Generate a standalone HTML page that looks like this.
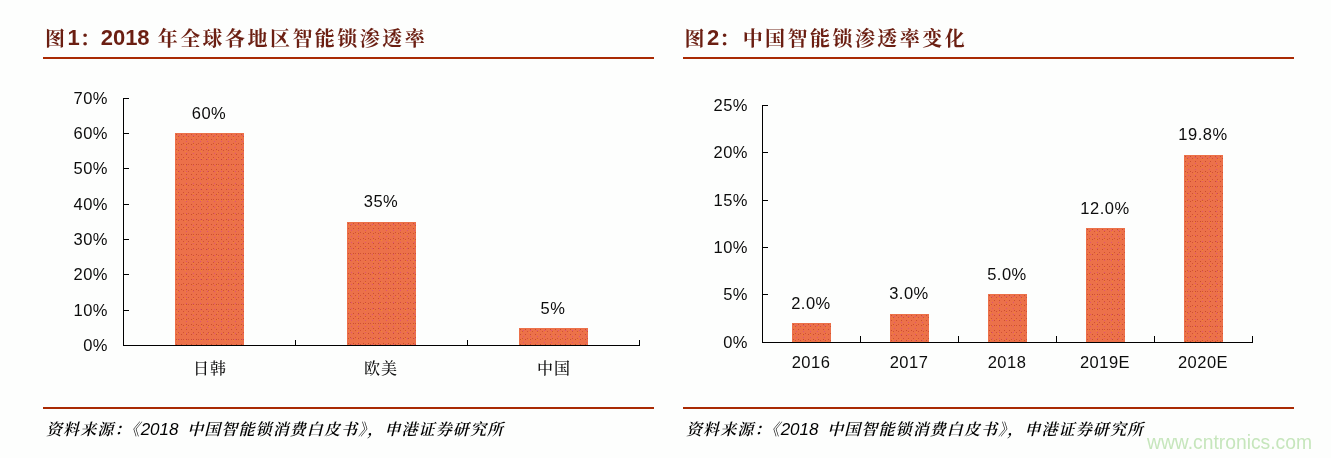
<!DOCTYPE html>
<html lang="zh-CN">
<head>
<meta charset="utf-8">
<title>智能锁渗透率</title>
<style>
html,body{margin:0;padding:0;}
body{text-spacing-trim:space-all;width:1331px;height:458px;position:relative;overflow:hidden;background:#fdfefd;
  font-family:"Liberation Sans","Noto Serif CJK SC",sans-serif;color:#0c0c0c;}
.abs{position:absolute;}
.rule{position:absolute;height:2px;background:#a92a03;}
.title{position:absolute;top:24px;height:28px;line-height:28px;font-size:22px;font-weight:bold;color:#6b1f12;white-space:nowrap;
  font-family:"Liberation Sans","Noto Serif CJK SC",serif;}
.title .c{font-size:20px;letter-spacing:2.45px;position:relative;top:1px;}
.l{font-family:"Liberation Sans",sans-serif;}
.src{position:absolute;top:418px;height:24px;line-height:24px;font-size:17px;font-style:italic;color:#000;white-space:nowrap;
  font-family:"Liberation Sans","Noto Serif CJK SC",serif;}
.ax{position:absolute;background:#000;}
.bar{position:absolute;background-color:#ec714a;
  background-image:
    radial-gradient(circle at 1.5px 1.5px, rgba(188,62,34,.7) 0.55px, rgba(188,62,34,0) 1px),
    radial-gradient(circle at 3.5px 3.5px, rgba(196,66,40,.65) 0.55px, rgba(196,66,40,0) 1px),
    radial-gradient(circle at 4.5px 2.5px, rgba(214,72,140,.65) 0.55px, rgba(214,72,140,0) 1px),
    radial-gradient(circle at 2.5px 4.5px, rgba(245,140,40,.75) 0.55px, rgba(245,140,40,0) 1px);
  background-size:5px 5px, 5px 7px, 7px 6px, 8px 7px;}
.yl{position:absolute;width:60px;text-align:right;font-size:16.5px;line-height:20px;height:20px;letter-spacing:0.5px;white-space:nowrap;}
.vl{position:absolute;width:80px;text-align:center;font-size:16.5px;line-height:20px;height:20px;letter-spacing:0.5px;white-space:nowrap;}
.xl{position:absolute;width:100px;text-align:center;font-size:16.5px;line-height:20px;height:20px;letter-spacing:0.5px;white-space:nowrap;}
.src .k{font-weight:600;font-size:16px;letter-spacing:1.1px;}
.cj{font-family:"Liberation Sans","Noto Serif CJK SC",serif;letter-spacing:1px;font-size:16px;font-weight:500;}
.wm{position:absolute;left:1147px;top:430.5px;font-size:19.3px;line-height:24px;color:#c6e6bc;white-space:nowrap;}
</style>
</head>
<body>

<!-- ===== Figure 1 ===== -->
<div class="title" style="left:45px;"><span class="c">图</span><span class="l">1</span><span class="c">：</span><span class="l" style="margin-left:-1.5px;">2018 </span><span class="c" style="margin-left:2px;">年全球各地区智能锁渗透率</span></div>
<div class="rule" style="left:43px;top:57px;width:611px;"></div>

<!-- axes -->
<div class="ax" style="left:123px;top:98px;width:1px;height:248px;"></div>
<div class="ax" style="left:123px;top:345px;width:517px;height:1px;"></div>
<!-- y ticks -->
<div class="ax" style="left:123px;top:98px;width:6px;height:1px;"></div>
<div class="ax" style="left:123px;top:133px;width:6px;height:1px;"></div>
<div class="ax" style="left:123px;top:168px;width:6px;height:1px;"></div>
<div class="ax" style="left:123px;top:204px;width:6px;height:1px;"></div>
<div class="ax" style="left:123px;top:239px;width:6px;height:1px;"></div>
<div class="ax" style="left:123px;top:274px;width:6px;height:1px;"></div>
<div class="ax" style="left:123px;top:310px;width:6px;height:1px;"></div>
<!-- x ticks -->
<div class="ax" style="left:295px;top:340px;width:1px;height:6px;"></div>
<div class="ax" style="left:467px;top:340px;width:1px;height:6px;"></div>
<div class="ax" style="left:639px;top:340px;width:1px;height:6px;"></div>
<!-- y labels -->
<div class="yl" style="left:48px;top:88px;">70%</div>
<div class="yl" style="left:48px;top:123px;">60%</div>
<div class="yl" style="left:48px;top:158px;">50%</div>
<div class="yl" style="left:48px;top:194px;">40%</div>
<div class="yl" style="left:48px;top:229px;">30%</div>
<div class="yl" style="left:48px;top:264px;">20%</div>
<div class="yl" style="left:48px;top:300px;">10%</div>
<div class="yl" style="left:48px;top:335px;">0%</div>
<!-- bars -->
<div class="bar" style="left:175px;top:133px;width:69px;height:212px;"></div>
<div class="bar" style="left:347px;top:222px;width:69px;height:123px;"></div>
<div class="bar" style="left:519px;top:328px;width:69px;height:17px;"></div>
<!-- value labels -->
<div class="vl" style="left:169px;top:103px;">60%</div>
<div class="vl" style="left:341px;top:191px;">35%</div>
<div class="vl" style="left:513px;top:298px;">5%</div>
<!-- x labels -->
<div class="xl cj" style="left:160px;top:359px;">日韩</div>
<div class="xl cj" style="left:331px;top:359px;">欧美</div>
<div class="xl cj" style="left:504px;top:359px;">中国</div>

<div class="rule" style="left:43px;top:407px;width:611px;"></div>
<div class="src" style="left:46px;"><span class="k">资料来源：<span style="margin-left:-8px;">《</span></span><span class="l">2018 </span><span class="k" style="margin-left:4px;">中国智能锁消费白皮书》<span style="margin-left:-8px;">，</span>申港证券研究所</span></div>

<!-- ===== Figure 2 ===== -->
<div class="title" style="left:684.5px;"><span class="c">图</span><span class="l">2</span><span class="c">：</span><span class="c" style="margin-left:1px;">中国智能锁渗透率变化</span></div>
<div class="rule" style="left:683px;top:57px;width:611px;"></div>

<!-- axes -->
<div class="ax" style="left:762px;top:105px;width:1px;height:238px;"></div>
<div class="ax" style="left:762px;top:342px;width:491px;height:1px;"></div>
<!-- y ticks -->
<div class="ax" style="left:762px;top:105px;width:6px;height:1px;"></div>
<div class="ax" style="left:762px;top:152px;width:6px;height:1px;"></div>
<div class="ax" style="left:762px;top:200px;width:6px;height:1px;"></div>
<div class="ax" style="left:762px;top:247px;width:6px;height:1px;"></div>
<div class="ax" style="left:762px;top:294px;width:6px;height:1px;"></div>
<!-- x ticks -->
<div class="ax" style="left:860px;top:336px;width:1px;height:7px;"></div>
<div class="ax" style="left:958px;top:336px;width:1px;height:7px;"></div>
<div class="ax" style="left:1056px;top:336px;width:1px;height:7px;"></div>
<div class="ax" style="left:1154px;top:336px;width:1px;height:7px;"></div>
<div class="ax" style="left:1252px;top:336px;width:1px;height:7px;"></div>
<!-- y labels -->
<div class="yl" style="left:688px;top:95px;">25%</div>
<div class="yl" style="left:688px;top:142px;">20%</div>
<div class="yl" style="left:688px;top:190px;">15%</div>
<div class="yl" style="left:688px;top:237px;">10%</div>
<div class="yl" style="left:688px;top:284px;">5%</div>
<div class="yl" style="left:688px;top:332px;">0%</div>
<!-- bars -->
<div class="bar" style="left:792px;top:323px;width:39px;height:19px;"></div>
<div class="bar" style="left:890px;top:314px;width:39px;height:28px;"></div>
<div class="bar" style="left:988px;top:294px;width:39px;height:48px;"></div>
<div class="bar" style="left:1086px;top:228px;width:39px;height:114px;"></div>
<div class="bar" style="left:1184px;top:155px;width:39px;height:187px;"></div>
<!-- value labels -->
<div class="vl" style="left:771px;top:293px;">2.0%</div>
<div class="vl" style="left:869px;top:283px;">3.0%</div>
<div class="vl" style="left:967px;top:264px;">5.0%</div>
<div class="vl" style="left:1065px;top:198px;">12.0%</div>
<div class="vl" style="left:1163px;top:124px;">19.8%</div>
<!-- x labels -->
<div class="xl" style="left:761px;top:352px;">2016</div>
<div class="xl" style="left:859px;top:352px;">2017</div>
<div class="xl" style="left:957px;top:352px;">2018</div>
<div class="xl" style="left:1055px;top:352px;">2019E</div>
<div class="xl" style="left:1153px;top:352px;">2020E</div>

<div class="rule" style="left:683px;top:407px;width:611px;"></div>
<div class="src" style="left:686px;"><span class="k">资料来源：<span style="margin-left:-8px;">《</span></span><span class="l">2018 </span><span class="k" style="margin-left:4px;">中国智能锁消费白皮书》<span style="margin-left:-8px;">，</span>申港证券研究所</span></div>

<div class="wm">www.cntronics.com</div>

</body>
</html>
